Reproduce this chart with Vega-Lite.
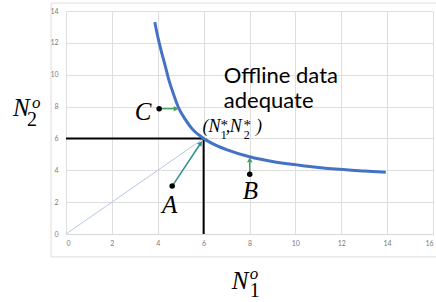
{
  "$schema": "https://vega.github.io/schema/vega-lite/v6.json",
  "width": 367,
  "height": 223,
  "autosize": {"type": "none"},
  "padding": {"left": 66, "top": 11, "right": 3, "bottom": 68},
  "background": "white",
  "config": {
    "view": {"stroke": null},
    "axis": {"labelFont": "Lato", "labelFontSize": 7, "labelColor": "#7a7a7a", "ticks": false, "gridColor": "#dedede", "gridWidth": 1, "title": null, "labelOverlap": false}
  },
  "encoding": {
    "x": {"field": "x", "type": "quantitative", "title": null, "scale": {"domain": [0, 16], "nice": false, "zero": false}, "axis": {"values": [0, 2, 4, 6, 8, 10, 12, 14, 16], "labelPadding": 5, "domainColor": "#d9d9d9", "grid": true, "title": null, "labelOverlap": false}},
    "y": {"field": "y", "type": "quantitative", "title": null, "scale": {"domain": [0, 14], "nice": false, "zero": false}, "axis": {"values": [0, 2, 4, 6, 8, 10, 12, 14], "tickCount": 8, "labelPadding": 8, "domain": false, "grid": true, "title": null, "labelOverlap": false}}
  },
  "layer": [
    {
      "data": {"values": [{"x": -0.65, "xe": 17, "y": 14.5, "ye": -1.44}]},
      "mark": {"type": "rect", "filled": false, "stroke": "#dcdcdc", "strokeWidth": 1},
      "encoding": {"x2": {"field": "xe"}, "y2": {"field": "ye"}}
    },
    {
      "data": {"values": [{"x": 0, "y": 0, "xe": 6, "ye": 6}]},
      "mark": {"type": "rule", "color": "#b4c7e7", "strokeWidth": 1},
      "encoding": {"x2": {"field": "xe"}, "y2": {"field": "ye"}}
    },
    {
      "data": {"values": [{"x": 0, "y": 6, "xe": 6, "ye": 6}, {"x": 6, "y": 0, "xe": 6, "ye": 6}]},
      "mark": {"type": "rule", "color": "#000000", "strokeWidth": 2},
      "encoding": {"x2": {"field": "xe"}, "y2": {"field": "ye"}}
    },
    {
      "data": {"values": [
        {"x": 3.87, "y": 13.3}, {"x": 4.0, "y": 12.4}, {"x": 4.15, "y": 11.5}, {"x": 4.3, "y": 10.7},
        {"x": 4.5, "y": 9.6}, {"x": 4.67, "y": 8.85}, {"x": 4.93, "y": 7.85}, {"x": 5.2, "y": 7.2},
        {"x": 5.5, "y": 6.6}, {"x": 6.0, "y": 6.0}, {"x": 6.5, "y": 5.6}, {"x": 7.0, "y": 5.3},
        {"x": 8.0, "y": 4.85}, {"x": 9.0, "y": 4.55}, {"x": 10.17, "y": 4.32}, {"x": 11.0, "y": 4.18},
        {"x": 11.9, "y": 4.06}, {"x": 13.0, "y": 3.95}, {"x": 13.94, "y": 3.87}
      ]},
      "mark": {"type": "line", "color": "#4472c4", "strokeWidth": 3, "interpolate": "monotone"},
      "encoding": {}
    },
    {
      "data": {"values": [{"x": 4.06, "y": 7.87, "xe": 4.75, "ye": 7.87}, {"x": 8.01, "y": 3.75, "xe": 8.01, "ye": 4.6}]},
      "mark": {"type": "rule", "color": "#4a9e62", "strokeWidth": 1.5},
      "encoding": {"x2": {"field": "xe"}, "y2": {"field": "ye"}}
    },
    {
      "data": {"values": [{"x": 4.63, "y": 3.01, "xe": 5.85, "ye": 5.65}]},
      "mark": {"type": "rule", "color": "#31918c", "strokeWidth": 1.5},
      "encoding": {"x2": {"field": "xe"}, "y2": {"field": "ye"}}
    },
    {
      "data": {"values": [{"x": 4.8, "y": 7.87}]},
      "mark": {"type": "point", "shape": "triangle-right", "filled": true, "color": "#4a9e62", "size": 30, "opacity": 1}
    },
    {
      "data": {"values": [{"x": 8.01, "y": 4.65}]},
      "mark": {"type": "point", "shape": "triangle-up", "filled": true, "color": "#4a9e62", "size": 30, "opacity": 1}
    },
    {
      "data": {"values": [{"x": 5.87, "y": 5.7}]},
      "mark": {"type": "point", "shape": "triangle-up", "angle": 35, "filled": true, "color": "#31918c", "size": 30, "opacity": 1}
    },
    {
      "data": {"values": [{"x": 4.06, "y": 7.87}, {"x": 4.63, "y": 3.01}, {"x": 8.01, "y": 3.75}]},
      "mark": {"type": "point", "shape": "circle", "filled": true, "color": "#000000", "size": 30, "opacity": 1}
    },
    {
      "data": {"values": [{"t": "Offline data", "x": 6.88, "y": 9.48}, {"t": "adequate", "x": 6.88, "y": 7.91}]},
      "mark": {"type": "text", "font": "Lato", "fontSize": 22, "color": "#000000", "align": "left", "baseline": "alphabetic"},
      "encoding": {"text": {"field": "t"}}
    },
    {
      "data": {"values": [
        {"t": "C", "x": 3.0, "y": 7.16}, {"t": "A", "x": 4.18, "y": 1.32}, {"t": "B", "x": 7.71, "y": 2.2},
        {"t": "N", "x": -2.31, "y": 7.41}, {"t": "N", "x": 7.23, "y": -3.45}
      ]},
      "mark": {"type": "text", "font": "Liberation Serif", "fontStyle": "italic", "fontSize": 25, "color": "#000000", "align": "left", "baseline": "alphabetic"},
      "encoding": {"text": {"field": "t"}}
    },
    {
      "data": {"values": [{"t": "o", "x": -1.48, "y": 7.88}, {"t": "o", "x": 8.01, "y": -2.82}]},
      "mark": {"type": "text", "font": "Liberation Serif", "fontStyle": "italic", "fontSize": 17, "color": "#000000", "align": "left", "baseline": "alphabetic"},
      "encoding": {"text": {"field": "t"}}
    },
    {
      "data": {"values": [{"t": "2", "x": -1.7, "y": 6.78}, {"t": "1", "x": 8.01, "y": -3.95}]},
      "mark": {"type": "text", "font": "Liberation Serif", "fontSize": 20, "color": "#000000", "align": "left", "baseline": "alphabetic"},
      "encoding": {"text": {"field": "t"}}
    },
    {
      "data": {"values": [{"t": "(N", "x": 5.95, "y": 6.4}, {"t": ",", "x": 6.97, "y": 6.4}, {"t": "N", "x": 7.14, "y": 6.4}, {"t": ")", "x": 8.28, "y": 6.4}]},
      "mark": {"type": "text", "font": "Liberation Serif", "fontStyle": "italic", "fontSize": 18, "color": "#000000", "align": "left", "baseline": "alphabetic"},
      "encoding": {"text": {"field": "t"}}
    },
    {
      "data": {"values": [{"t": "1", "x": 6.75, "y": 5.98}, {"t": "2", "x": 7.75, "y": 5.98}]},
      "mark": {"type": "text", "font": "Liberation Serif", "fontSize": 12, "color": "#000000", "align": "left", "baseline": "alphabetic"},
      "encoding": {"text": {"field": "t"}}
    },
    {
      "data": {"values": [{"t": "*", "x": 6.74, "y": 6.5}, {"t": "*", "x": 7.74, "y": 6.5}]},
      "mark": {"type": "text", "font": "Liberation Serif", "fontSize": 15, "color": "#000000", "align": "left", "baseline": "alphabetic"},
      "encoding": {"text": {"field": "t"}}
    }
  ]
}
